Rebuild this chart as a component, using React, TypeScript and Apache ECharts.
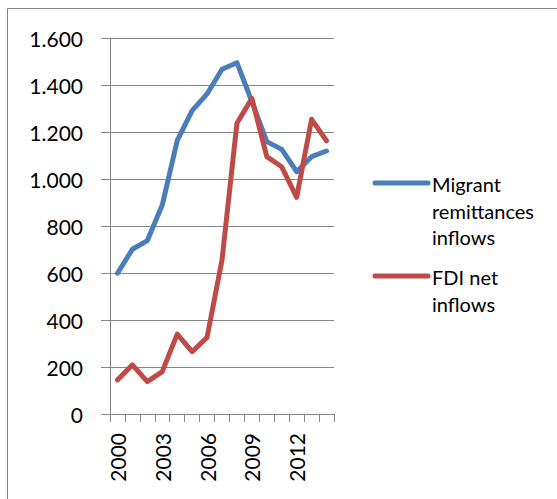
import React, { useEffect, useRef } from "react";
import * as echarts from "echarts";

const years = ["2000", "2001", "2002", "2003", "2004", "2005", "2006", "2007", "2008", "2009", "2010", "2011", "2012", "2013", "2014"];
const remittances = [599, 701, 738, 889, 1163, 1291, 1362, 1467, 1495, 1329, 1159, 1126, 1031, 1095, 1119];
const fdiInflows = [145, 209, 138, 180, 340, 265, 326, 655, 1237, 1343, 1095, 1052, 922, 1254, 1163];
const seriesNames = ["Migrant\nremittances\ninflows", "FDI net\ninflows"];

const BLUE = "#4A7EBB";
const RED = "#BE4B48";
const GRAY = "#868686";
const FONT = "Lato, 'Open Sans', sans-serif";

const formatThousands = (v: number) =>
  String(v).replace(/\B(?=(\d{3})+(?!\d))/g, ".");

export default function App() {
  const ref = useRef<HTMLDivElement>(null);

  useEffect(() => {
    if (!ref.current) return;
    const chart = echarts.init(ref.current, null, { renderer: "svg" });
    chart.setOption({
      animation: false,
      backgroundColor: "#fff",
      grid: { left: 110, right: 223, top: 38, bottom: 85 },
      xAxis: {
        type: "category",
        data: years,
        boundaryGap: true,
        axisLine: { lineStyle: { color: GRAY, width: 1 } },
        axisTick: { show: true, length: 8, interval: 0, lineStyle: { color: GRAY } },
        axisLabel: {
          interval: 2,
          rotate: 90,
          margin: 19,
          color: "#000",
          fontSize: 21,
          fontFamily: FONT,
        },
        splitLine: { show: false },
      },
      yAxis: {
        type: "value",
        min: 0,
        max: 1600,
        interval: 200,
        axisLine: { show: true, lineStyle: { color: GRAY, width: 1 } },
        axisTick: { show: true, length: 9, lineStyle: { color: GRAY } },
        axisLabel: {
          margin: 27,
          color: "#000",
          fontSize: 21,
          fontFamily: FONT,
          formatter: (v: number) => formatThousands(v),
        },
        splitLine: { show: true, lineStyle: { color: GRAY, width: 1 } },
      },
      series: [
        {
          name: seriesNames[0],
          type: "line",
          data: remittances,
          symbol: "none",
          lineStyle: { color: BLUE, width: 5, cap: "round", join: "round" },
          itemStyle: { color: BLUE },
          z: 2,
        },
        {
          name: seriesNames[1],
          type: "line",
          data: fdiInflows,
          symbol: "none",
          lineStyle: { color: RED, width: 5, cap: "round", join: "round" },
          itemStyle: { color: RED },
          z: 3,
        },
      ],
      graphic: [
        {
          type: "rect",
          shape: { x: 7.5, y: 8.5, width: 700, height: 700 },
          style: { fill: "none", stroke: GRAY, lineWidth: 1 },
          silent: true,
        },
        {
          type: "line",
          shape: { x1: 375, y1: 183, x2: 428, y2: 183 },
          style: { stroke: BLUE, lineWidth: 5, lineCap: "round" },
        },
        {
          type: "text",
          x: 432,
          y: 171,
          style: {
            text: seriesNames[0],
            fill: "#000",
            font: `20px ${FONT}`,
            lineHeight: 26.5,
          },
        },
        {
          type: "line",
          shape: { x1: 375, y1: 276, x2: 428, y2: 276 },
          style: { stroke: RED, lineWidth: 5, lineCap: "round" },
        },
        {
          type: "text",
          x: 432,
          y: 264,
          style: {
            text: seriesNames[1],
            fill: "#000",
            font: `20px ${FONT}`,
            lineHeight: 26.5,
          },
        },
      ],
    });
    return () => chart.dispose();
  }, []);

  return (
    <div
      ref={ref}
      style={{ position: "absolute", left: 0, top: 0, width: 557, height: 499 }}
    />
  );
}
